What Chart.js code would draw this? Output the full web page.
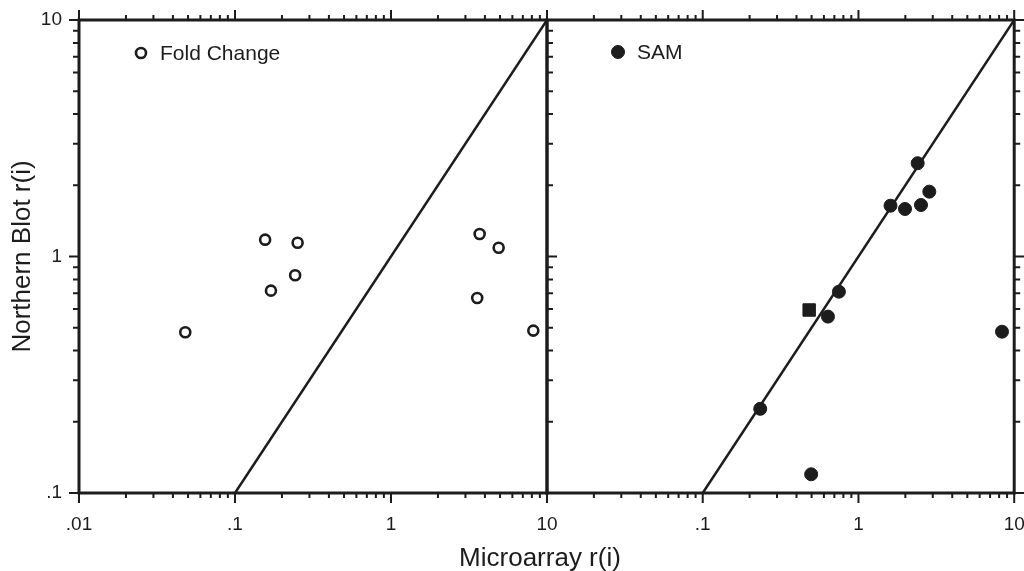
<!DOCTYPE html>
<html>
<head>
<meta charset="utf-8">
<script src="https://cdn.jsdelivr.net/npm/chart.js@4"></script>
<style>
    body { margin: 0; background: #fff; }
    #wrap { position: relative; width: 1024px; height: 571px; overflow: hidden; }
    canvas { position: absolute; left: 0; top: 0; }
    #xtitle {
        position: absolute; left: 390px; width: 300px; top: 544px;
        text-align: center; font: 26px "Liberation Sans", Arial, sans-serif;
        line-height: 26px; color: #1c1c1c;
    }
</style>
</head>
<body>
<div id="wrap">
    <canvas id="left_graph" width="1024" height="571"></canvas>
    <canvas id="right_graph" width="1024" height="571"></canvas>
    <div id="xtitle">Microarray r(i)</div>
</div>
<script>
// Fold Change (open circles)
const fold_x = [0.048, 0.156, 0.252, 0.243, 0.170, 3.70, 4.90, 3.57, 8.17];
const fold_y = [0.478, 1.178, 1.144, 0.833, 0.717, 1.245, 1.089, 0.668, 0.486];

// SAM (filled circles + one square)
const sam_x = [0.234, 0.497, 0.637, 0.749, 1.606, 1.99, 2.52, 2.40, 2.85, 8.35];
const sam_y = [0.227, 0.120, 0.557, 0.710, 1.64, 1.588, 1.651, 2.48, 1.88, 0.481];
const square_x = [0.4825];
const square_y = [0.594];

// y = x reference line
const line_x = [0.1, 10];
const line_y = [0.1, 10];

// axes
const x_major_left  = [0.01, 0.1, 1, 10];
const x_major_right = [0.1, 1, 10];
const y_major       = [0.1, 1, 10];
const tick_labels   = { "0.01": ".01", "0.1": ".1", "1": "1", "10": "10" };
const decades_x     = [0.01, 0.1, 1];
const decades_y     = [0.1, 1];
const steps         = [1, 2, 3, 4, 5, 6, 7, 8, 9];

const INK  = "#1c1c1c";
const FONT = "'Liberation Sans', Arial, sans-serif";

function pts(xs, ys) {
    let out = [];
    for (let i = 0; i < xs.length; i++) out.push({ x: xs[i], y: ys[i] });
    return out;
}

function all_ticks(decades) {
    let out = [];
    for (let d of decades) for (let s of steps) out.push(Math.round(d * s * 1000) / 1000);
    out.push(decades[decades.length - 1] * 10);
    return out;
}
const x_ticks = all_ticks(decades_x);
const y_ticks = all_ticks(decades_y);

function is_major(v) { return [0.01, 0.1, 1, 10].includes(v); }

// frame + tick marks, legend
const frame_plugin = {
    id: "frame_plugin",
    afterDraw(chart, args, opts) {
        const ctx = chart.ctx;
        const a   = chart.chartArea;
        const xs  = chart.scales.x;
        const ys  = chart.scales.y;
        ctx.save();
        ctx.strokeStyle = INK;
        ctx.lineWidth = 2;
        ctx.beginPath();
        for (let v of x_ticks) {
            let px  = xs.getPixelForValue(v);
            let len = is_major(v) ? 10 : 5;
            ctx.moveTo(px, a.bottom); ctx.lineTo(px, a.bottom + len);
            ctx.moveTo(px, a.top);    ctx.lineTo(px, a.top - len);
        }
        for (let v of y_ticks) {
            let py  = ys.getPixelForValue(v);
            let len = is_major(v) ? 10 : 6;
            for (let side of opts.y_sides) {
                let bx = side === "left" ? a.left : a.right;
                ctx.moveTo(bx, py); ctx.lineTo(bx + opts.y_dir * len, py);
            }
        }
        ctx.stroke();
        ctx.lineWidth = 3;
        ctx.strokeRect(a.left, a.top, a.right - a.left, a.bottom - a.top);

        // legend
        const ds = chart.data.datasets[0];
        ctx.beginPath();
        ctx.arc(opts.legend_x, opts.legend_y, ds.pointRadius, 0, Math.PI * 2);
        ctx.fillStyle = ds.pointBackgroundColor;
        ctx.fill();
        ctx.lineWidth = ds.pointBorderWidth;
        ctx.strokeStyle = INK;
        ctx.stroke();
        ctx.fillStyle = INK;
        ctx.font = "21px " + FONT;
        ctx.textBaseline = "alphabetic";
        ctx.fillText(ds.label, opts.legend_x + 19, opts.legend_y + 6.5);
        ctx.restore();
    }
};

function x_scale(majors) {
    return {
        type: "logarithmic",
        min: 0.01, max: 10,
        grid: { display: false, drawTicks: false },
        border: { display: false },
        afterBuildTicks: (s) => { s.ticks = majors.map(v => ({ value: v })); },
        afterFit: (s) => { s.height = 78; s.paddingLeft = 0; s.paddingRight = 0; },
        ticks: {
            padding: 20, color: INK, maxRotation: 0, autoSkip: false,
            font: { family: FONT, size: 19 },
            callback: (v) => tick_labels[String(v)]
        }
    };
}

function line_set() {
    return {
        type: "line", label: "y=x", data: pts(line_x, line_y),
        borderColor: INK, borderWidth: 2.5, pointRadius: 0, fill: false
    };
}

new Chart(document.getElementById("left_graph"), {
    type: "scatter",
    data: {
        datasets: [
            {
                label: "Fold Change", data: pts(fold_x, fold_y),
                pointStyle: "circle", pointRadius: 5, pointBorderWidth: 2.6,
                pointBackgroundColor: "#ffffff", pointBorderColor: INK
            },
            line_set()
        ]
    },
    options: {
        responsive: false, animation: false,
        layout: { padding: { left: 0, right: 477, top: 20, bottom: 0 } },
        scales: {
            x: x_scale(x_major_left),
            y: {
                type: "logarithmic",
                min: 0.1, max: 10,
                grid: { display: false, drawTicks: false },
                border: { display: false },
                afterBuildTicks: (s) => { s.ticks = y_major.map(v => ({ value: v })); },
                afterFit: (s) => { s.width = 79; s.paddingTop = 0; s.paddingBottom = 0; },
                ticks: {
                    padding: 17, color: INK,
                    font: { family: FONT, size: 19 },
                    callback: (v) => tick_labels[String(v)]
                },
                title: {
                    display: true, text: "Northern Blot r(i)", color: INK,
                    font: { family: FONT, size: 26 },
                    padding: { top: 7, bottom: 0 }
                }
            }
        },
        plugins: {
            legend: { display: false },
            tooltip: { enabled: false },
            frame_plugin: { y_sides: ["left"], y_dir: -1, legend_x: 141, legend_y: 53 }
        }
    },
    plugins: [frame_plugin]
});

new Chart(document.getElementById("right_graph"), {
    type: "scatter",
    data: {
        datasets: [
            {
                label: "SAM", data: pts(sam_x, sam_y),
                pointStyle: "circle", pointRadius: 6.5, pointBorderWidth: 1,
                pointBackgroundColor: INK, pointBorderColor: INK
            },
            {
                label: "SAM (square)", data: pts(square_x, square_y),
                pointStyle: "rect", pointRadius: 8.8, pointBorderWidth: 1,
                pointBackgroundColor: INK, pointBorderColor: INK
            },
            line_set()
        ]
    },
    options: {
        responsive: false, animation: false,
        layout: { padding: { left: 547, right: 6, top: 20, bottom: 0 } },
        scales: {
            x: x_scale(x_major_right),
            y: {
                type: "logarithmic",
                min: 0.1, max: 10,
                grid: { display: false, drawTicks: false },
                border: { display: false },
                ticks: { display: false },
                afterFit: (s) => { s.width = 0; s.paddingTop = 0; s.paddingBottom = 0; }
            }
        },
        plugins: {
            legend: { display: false },
            tooltip: { enabled: false },
            frame_plugin: { y_sides: ["left", "right"], y_dir: 1, legend_x: 618, legend_y: 52 }
        }
    },
    plugins: [frame_plugin]
});
</script>
</body>
</html>
